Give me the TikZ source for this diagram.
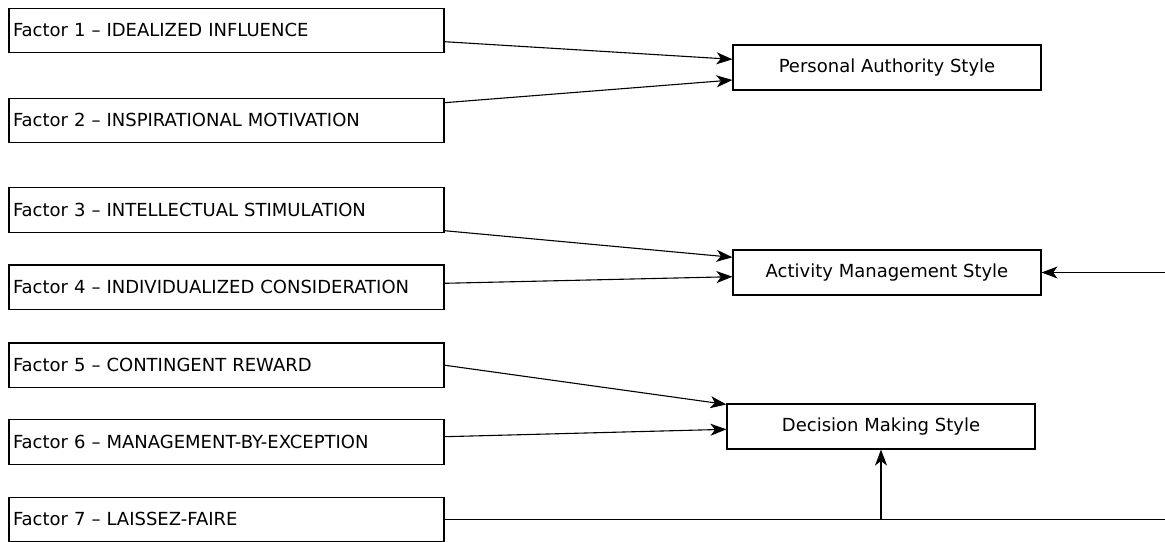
\documentclass[tikz,border=0pt]{standalone}
\usepackage{fontspec}
\setmainfont{DejaVu Sans}
\usetikzlibrary{arrows.meta,calc}
\begin{document}
\begin{tikzpicture}[x=1pt,y=1pt,
  factor/.style={draw=black,line width=1.1pt,minimum width=435pt,minimum height=44.5pt,inner sep=0pt,text width=427pt,align=left,font=\fontsize{18}{21}\selectfont},
  stylebox/.style={draw=black,line width=1.1pt,minimum width=308pt,minimum height=45pt,inner sep=0pt,align=center,font=\fontsize{18}{21}\selectfont},
  conn/.style={line width=1.1pt,-{Stealth[length=16pt,width=12pt,inset=4.5pt]}},
  plain/.style={line width=1.1pt}]
\useasboundingbox (0,0) rectangle (1165,-541);
\node[factor] (b1) at (226.5,-30.3) {Factor 1 – IDEALIZED INFLUENCE};
\node[factor] (b2) at (226.5,-120.3) {Factor 2 – INSPIRATIONAL MOTIVATION};
\node[factor] (b3) at (226.5,-209.8) {Factor 3 – INTELLECTUAL STIMULATION};
\node[factor] (b4) at (226.5,-287.2) {Factor 4 – INDIVIDUALIZED CONSIDERATION};
\node[factor] (b5) at (226.5,-365.2) {Factor 5 – CONTINGENT REWARD};
\node[factor] (b6) at (226.5,-441.8) {Factor 6 – MANAGEMENT-BY-EXCEPTION};
\node[factor] (b7) at (226.5,-519.3) {Factor 7 – LAISSEZ-FAIRE};
\node[stylebox] (P) at (887,-67.5) {Personal Authority Style};
\node[stylebox] (A) at (887,-272.5) {Activity Management Style};
\node[stylebox] (D) at (881,-426.5) {Decision Making Style};
\coordinate (rin) at (1165,-272.5);
\coordinate (rout) at (1165,-519.3);
\draw[conn] ([yshift=-11.4pt]b1.east) -- ([yshift=8.2pt]P.west);
\draw[conn] ([yshift=17.6pt]b2.east) -- ([yshift=-12.5pt]P.west);
\draw[conn] ([yshift=-20.9pt]b3.east) -- ([yshift=15.2pt]A.west);
\draw[conn] ([yshift=3.9pt]b4.east) -- ([yshift=-4.2pt]A.west);
\draw[conn] (b5.east) -- ([yshift=-1pt]D.north west);
\draw[conn] ([yshift=5.1pt]b6.east) -- ([yshift=-2.8pt]D.west);
\draw[conn] (rin) -- (A.east);
\draw[plain] (b7.east) -- (rout);
\coordinate (j) at (D.south |- rout);
\draw[conn] (j) -- (D.south);
\end{tikzpicture}
\end{document}
